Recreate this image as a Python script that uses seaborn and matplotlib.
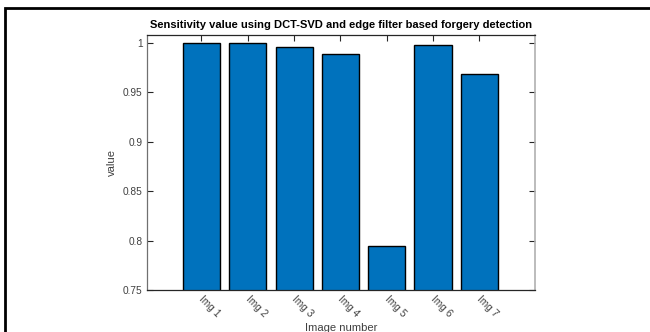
import pandas as pd
import matplotlib
matplotlib.use("Agg")
import matplotlib.pyplot as plt
import matplotlib.transforms as mtransforms
import seaborn as sns
from matplotlib.patches import Rectangle

# values
images = ["Img 1", "Img 2", "Img 3", "Img 4", "Img 5", "Img 6", "Img 7"]
sensitivity = [0.9998, 0.9998, 0.9962, 0.9888, 0.7942, 0.9985, 0.9690]
y_ticks = [0.75, 0.8, 0.85, 0.9, 0.95, 1.0]
y_tick_labels = ["0.75", "0.8", "0.85", "0.9", "0.95", "1"]

df = pd.DataFrame({"image": images, "value": sensitivity})

sns.set_style("white")
plt.rcParams["font.family"] = ["Liberation Sans", "DejaVu Sans"]

fig = plt.figure(figsize=(6.5, 3.32), dpi=100)
ax = fig.add_axes([0.2257, 0.1265, 0.5973, 0.769])

sns.barplot(data=df, x="image", y="value", color="#0072BD", saturation=1,
            width=0.8, edgecolor="black", linewidth=1.0, ax=ax)

ax.set_ylim(0.75, 1.0085)
ax.set_xlim(-1.18, 7.2)
ax.set_yticks(y_ticks)
ax.set_yticklabels(y_tick_labels)
ax.set_xticks(range(len(images)))
ax.set_xticklabels(images, rotation=-45, ha="left", va="top")

ax.tick_params(axis="both", direction="in", length=4, width=0.8,
               colors="#262626", labelsize=7.3, top=True, right=True,
               bottom=True, left=True, pad=3)
for lab in ax.get_xticklabels() + ax.get_yticklabels():
    lab.set_color("#404040")

# nudge the rotated x labels a little to the left, as in the original
shift = mtransforms.ScaledTranslation(-4 / 100, 0, fig.dpi_scale_trans)
for lab in ax.get_xticklabels():
    lab.set_transform(lab.get_transform() + shift)

for side in ["left", "bottom", "top"]:
    ax.spines[side].set_visible(True)
    ax.spines[side].set_color("#262626")
    ax.spines[side].set_linewidth(0.9)
ax.spines["left"].set_color("#707070")
ax.spines["right"].set_visible(True)
ax.spines["right"].set_color("#b0b0b0")
ax.spines["right"].set_linewidth(1.2)

ax.set_xlabel("Image number", fontsize=8.1, color="#404040", labelpad=3)
ax.set_ylabel("value", fontsize=8.1, color="#404040", labelpad=4)
ax.set_title("Sensitivity value using DCT-SVD and edge filter based forgery detection",
             fontsize=8, fontweight="bold", color="black", pad=5)

# outer frame of the original screenshot
fig.patches.append(Rectangle((5 / 650, -0.1), 1.2, (332 - 8) / 332 + 0.1,
                             transform=fig.transFigure, fill=False,
                             edgecolor="black", linewidth=2))

fig.savefig("out.png", dpi=100)
